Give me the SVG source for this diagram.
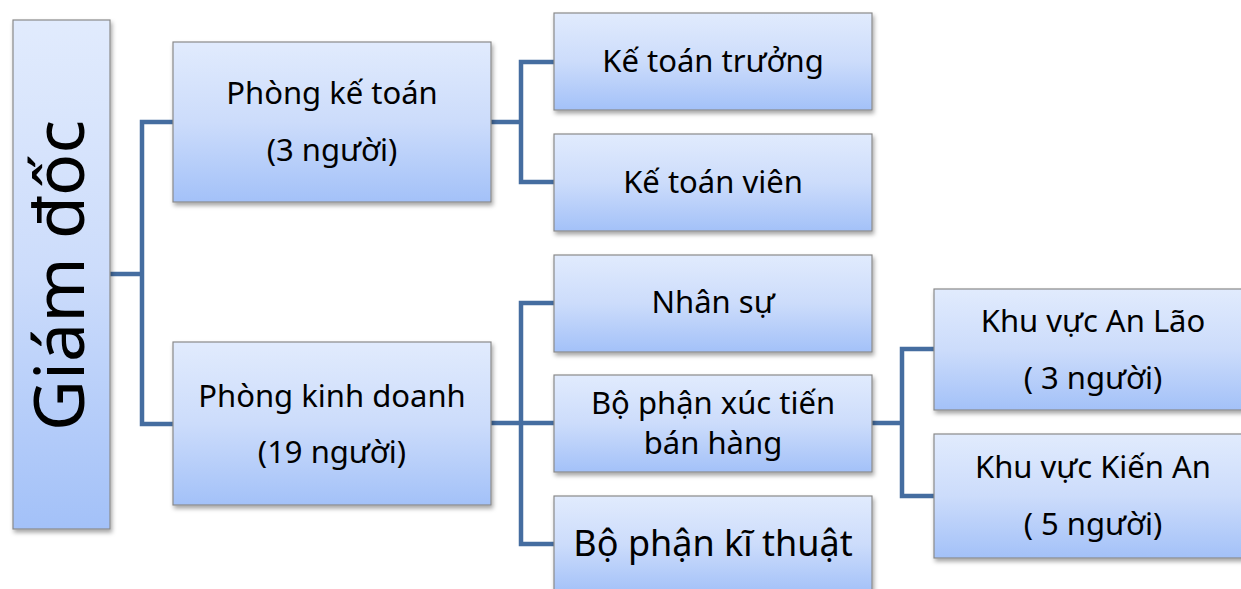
<svg xmlns="http://www.w3.org/2000/svg" width="1241" height="589" viewBox="0 0 1241 589">
<defs>
<linearGradient id="g" x1="0" y1="0" x2="0" y2="1">
<stop offset="0" stop-color="#e1ebfd"/>
<stop offset="0.5" stop-color="#ccdcfb"/>
<stop offset="1" stop-color="#a3c1f8"/>
</linearGradient>
<filter id="sh" x="-10%" y="-10%" width="130%" height="130%">
<feDropShadow dx="1.5" dy="3" stdDeviation="2" flood-color="#000" flood-opacity="0.35"/>
</filter>
<style>
.box{fill:url(#g);stroke:#8a8a8a;stroke-width:1.2;filter:url(#sh)}
.t{font-family:"Noto Sans","DejaVu Sans",sans-serif;font-size:31px;fill:#000;text-anchor:middle}
.big{font-size:36px}
.conn{fill:none;stroke:#456da0;stroke-width:4.5;stroke-linejoin:miter}
</style>
</defs>
<rect width="1241" height="589" fill="#fff"/>
<g id="connectors">
<path class="conn" d="M110 274 H142 M173 122 H142 V424 H173"/>
<path class="conn" d="M491 122 H521 M554 62 H521 V182 H554"/>
<path class="conn" d="M491 423 H554 M554 303 H521 V544 H554"/>
<path class="conn" d="M872 423 H902 M934 349 H902 V496 H934"/>
</g>
<g id="giam-doc">
<rect class="box" x="13" y="20" width="97" height="509"/>
<text class="t" style="font-size:70px" transform="translate(84 275.5) rotate(-90)">Giám đốc</text>
</g>
<g id="phong-ke-toan">
<rect class="box" x="173" y="42" width="318" height="160"/>
<text class="t" x="332" y="104">Phòng kế toán</text>
<text class="t" x="332" y="161">(3 người)</text>
</g>
<g id="phong-kinh-doanh">
<rect class="box" x="173" y="342" width="318" height="163"/>
<text class="t" x="332" y="407">Phòng kinh doanh</text>
<text class="t" x="332" y="463">(19 người)</text>
</g>
<g id="ke-toan-truong">
<rect class="box" x="554" y="13" width="318" height="97"/>
<text class="t" x="713" y="72">Kế toán trưởng</text>
</g>
<g id="ke-toan-vien">
<rect class="box" x="554" y="134" width="318" height="97"/>
<text class="t" x="713" y="193">Kế toán viên</text>
</g>
<g id="nhan-su">
<rect class="box" x="554" y="255" width="318" height="97"/>
<text class="t" x="713" y="313">Nhân sự</text>
</g>
<g id="xuc-tien-ban-hang">
<rect class="box" x="554" y="375" width="318" height="97"/>
<text class="t" x="713" y="414">Bộ phận xúc tiến</text>
<text class="t" x="713" y="454">bán hàng</text>
</g>
<g id="ki-thuat">
<rect class="box" x="554" y="496" width="318" height="97"/>
<text class="t big" x="713" y="556">Bộ phận kĩ thuật</text>
</g>
<g id="an-lao">
<rect class="box" x="934" y="289" width="318" height="121"/>
<text class="t" x="1093" y="332">Khu vực An Lão</text>
<text class="t" x="1093" y="389">( 3 người)</text>
</g>
<g id="kien-an">
<rect class="box" x="934" y="434" width="318" height="124"/>
<text class="t" x="1093" y="478">Khu vực Kiến An</text>
<text class="t" x="1093" y="535">( 5 người)</text>
</g>
</svg>
